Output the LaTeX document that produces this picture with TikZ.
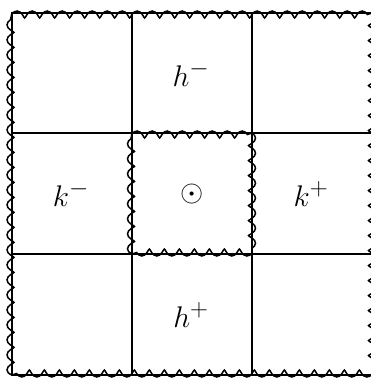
\documentclass[tikz,border=0pt]{standalone}
\usepackage{graphicx}
\usetikzlibrary{decorations.pathmorphing}
\newcommand{\biglab}[1]{\scalebox{1.2}{\Huge $#1$}}
\begin{document}
\begin{tikzpicture}[x=1pt,y=1pt,
  gridline/.style={line width=2pt},
  coilline/.style={line width=1.5pt, decorate,
     decoration={coil, amplitude=3.5pt, segment length=15pt, aspect=0.4, raise=#1}},
  coilline/.default=0pt,
  lab/.style={inner sep=0pt}]
\useasboundingbox (0,0) rectangle (371,378);
% grid coordinates
\coordinate (A0) at (12,365);
\coordinate (A3) at (372,3);
% grid lines
\draw[gridline] (A0) rectangle (A3);
\draw[gridline] (132,365) -- (132,3);
\draw[gridline] (252,365) -- (252,3);
\draw[gridline] (12,245) -- (372,245);
\draw[gridline] (12,124) -- (372,124);
% wavy outer border
\draw[coilline=1.5pt] (12,3) -- (12,365);
\draw[coilline=-1.5pt] (12,365) -- (372,365);
\draw[coilline] (372,365) -- (372,3);
\draw[coilline=-1.5pt] (372,3) -- (12,3);
% wavy central square
\draw[coilline=1pt] (132,124) -- (132,245);
\draw[coilline=-1.5pt] (132,245) -- (252,245);
\draw[coilline] (252,245) -- (252,124);
\draw[coilline=-1.5pt] (252,124) -- (132,124);
% labels
\node[lab] (hm) at (191,304) {\biglab{h^-}};
\node[lab] (km) at (71,184) {\biglab{k^-}};
\node[lab] (od) at (192,184) {\biglab{\odot}};
\node[lab] (kp) at (311,184) {\biglab{k^+}};
\node[lab] (hp) at (191,63) {\biglab{h^+}};
\end{tikzpicture}
\end{document}
